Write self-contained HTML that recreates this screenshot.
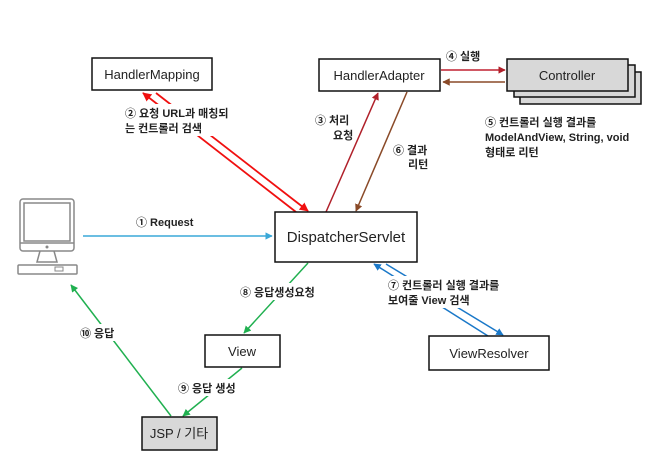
<!DOCTYPE html>
<html><head><meta charset="utf-8"><style>
body{margin:0;background:#fff;width:670px;height:457px;overflow:hidden}
svg{display:block}
.b{font-family:"Liberation Sans","Noto Sans CJK KR",sans-serif;font-size:13px;fill:#222}
.l{font-family:"Liberation Sans","Noto Sans CJK KR",sans-serif;font-size:11px;font-weight:bold;fill:#222}
</style></head><body>
<svg width="670" height="457" viewBox="0 0 670 457">
<defs>
<marker id="ar" viewBox="0 0 10 10" refX="9" refY="5" markerWidth="5" markerHeight="5" orient="auto"><path d="M0,0L10,5L0,10z" fill="#f01010"/></marker>
<marker id="dr" viewBox="0 0 10 10" refX="9" refY="5" markerWidth="5" markerHeight="5" orient="auto"><path d="M0,0L10,5L0,10z" fill="#b0202a"/></marker>
<marker id="br" viewBox="0 0 10 10" refX="9" refY="5" markerWidth="5" markerHeight="5" orient="auto"><path d="M0,0L10,5L0,10z" fill="#8a4a28"/></marker>
<marker id="gr" viewBox="0 0 10 10" refX="9" refY="5" markerWidth="5" markerHeight="5" orient="auto"><path d="M0,0L10,5L0,10z" fill="#20b050"/></marker>
<marker id="bl" viewBox="0 0 10 10" refX="9" refY="5" markerWidth="5" markerHeight="5" orient="auto"><path d="M0,0L10,5L0,10z" fill="#1a78c8"/></marker>
<marker id="cy" viewBox="0 0 10 10" refX="9" refY="5" markerWidth="5" markerHeight="5" orient="auto"><path d="M0,0L10,5L0,10z" fill="#3aa8d8"/></marker>
</defs>
<g fill="none" stroke="#888" stroke-width="1.5">
<rect x="20" y="199" width="54" height="52" rx="3"/>
<rect x="24" y="203" width="46" height="38" fill="#fff"/>
<line x1="20" y1="243" x2="74" y2="243"/>
<path d="M40 251 L37 262 L57 262 L54 251"/>
<rect x="18" y="265" width="59" height="9" rx="1"/>
<rect x="55" y="267" width="8" height="4" stroke-width="1"/>
</g>
<circle cx="47" cy="247" r="1.5" fill="#888"/>
<line x1="83" y1="236" x2="272" y2="236" stroke="#3aa8d8" stroke-width="1.5" marker-end="url(#cy)"/>
<line x1="296" y1="212" x2="143" y2="93" stroke="#f01010" stroke-width="1.8" marker-end="url(#ar)"/>
<line x1="156" y1="93" x2="308" y2="211" stroke="#f01010" stroke-width="1.8" marker-end="url(#ar)"/>
<line x1="326" y1="212" x2="378" y2="93" stroke="#b0202a" stroke-width="1.5" marker-end="url(#dr)"/>
<line x1="407" y1="92" x2="356" y2="211" stroke="#8a4a28" stroke-width="1.5" marker-end="url(#br)"/>
<line x1="441" y1="70" x2="505" y2="70" stroke="#c02030" stroke-width="1.5" marker-end="url(#dr)"/>
<line x1="505" y1="82" x2="443" y2="82" stroke="#8a4a28" stroke-width="1.5" marker-end="url(#br)"/>
<line x1="308" y1="263" x2="244" y2="333" stroke="#20b050" stroke-width="1.5" marker-end="url(#gr)"/>
<line x1="242" y1="368" x2="183" y2="416" stroke="#20b050" stroke-width="1.5" marker-end="url(#gr)"/>
<line x1="171" y1="416" x2="71" y2="285" stroke="#20b050" stroke-width="1.5" marker-end="url(#gr)"/>
<line x1="488" y1="336" x2="374" y2="264" stroke="#1a78c8" stroke-width="1.5" marker-end="url(#bl)"/>
<line x1="386" y1="264" x2="503" y2="335" stroke="#1a78c8" stroke-width="1.5" marker-end="url(#bl)"/>
<g fill="#fff">
<rect x="122" y="104" width="112" height="32"/>
<rect x="312" y="111" width="40" height="32"/>
<rect x="390" y="140" width="40" height="32"/>
<rect x="236" y="283" width="88" height="17"/>
<rect x="385" y="276" width="122" height="32"/>
<rect x="76" y="324" width="40" height="17"/>
<rect x="174" y="379" width="72" height="17"/>
</g>
<g stroke="#111" stroke-width="1.5">
<rect x="92" y="58" width="120" height="32" fill="#fff"/>
<rect x="319" y="59" width="121" height="32" fill="#fff"/>
<rect x="520" y="72" width="121" height="32" fill="#d8d8d8"/>
<rect x="514" y="65" width="121" height="32" fill="#d8d8d8"/>
<rect x="507" y="59" width="121" height="32" fill="#d8d8d8"/>
<rect x="275" y="212" width="142" height="50" fill="#fff"/>
<rect x="205" y="335" width="75" height="32" fill="#fff"/>
<rect x="429" y="336" width="120" height="34" fill="#fff"/>
<rect x="142" y="417" width="75" height="33" fill="#d8d8d8"/>
</g>
<g class="b" text-anchor="middle">
<text x="152" y="79">HandlerMapping</text>
<text x="379" y="80">HandlerAdapter</text>
<text x="567" y="80">Controller</text>
<text x="346" y="242" font-size="15">DispatcherServlet</text>
<text x="242" y="356">View</text>
<text x="489" y="358">ViewResolver</text>
<text x="179" y="438">JSP / 기타</text>
</g>
<g class="l">
<text x="125" y="117">② 요청 URL과 매칭되</text>
<text x="125" y="132">는 컨트롤러 검색</text>
<text x="315" y="124">③ 처리</text>
<text x="333" y="139">요청</text>
<text x="446" y="60">④ 실행</text>
<text x="393" y="154">⑥ 결과</text>
<text x="408" y="168">리턴</text>
<text x="485" y="126">⑤ 컨트롤러 실행 결과를</text>
<text x="485" y="141">ModelAndView, String, void</text>
<text x="485" y="156">형태로 리턴</text>
<text x="136" y="226">① Request</text>
<text x="240" y="296">⑧ 응답생성요청</text>
<text x="388" y="289">⑦ 컨트롤러 실행 결과를</text>
<text x="388" y="304">보여줄 View 검색</text>
<text x="80" y="337">⑩ 응답</text>
<text x="178" y="392">⑨ 응답 생성</text>
</g>
</svg>
</body></html>
